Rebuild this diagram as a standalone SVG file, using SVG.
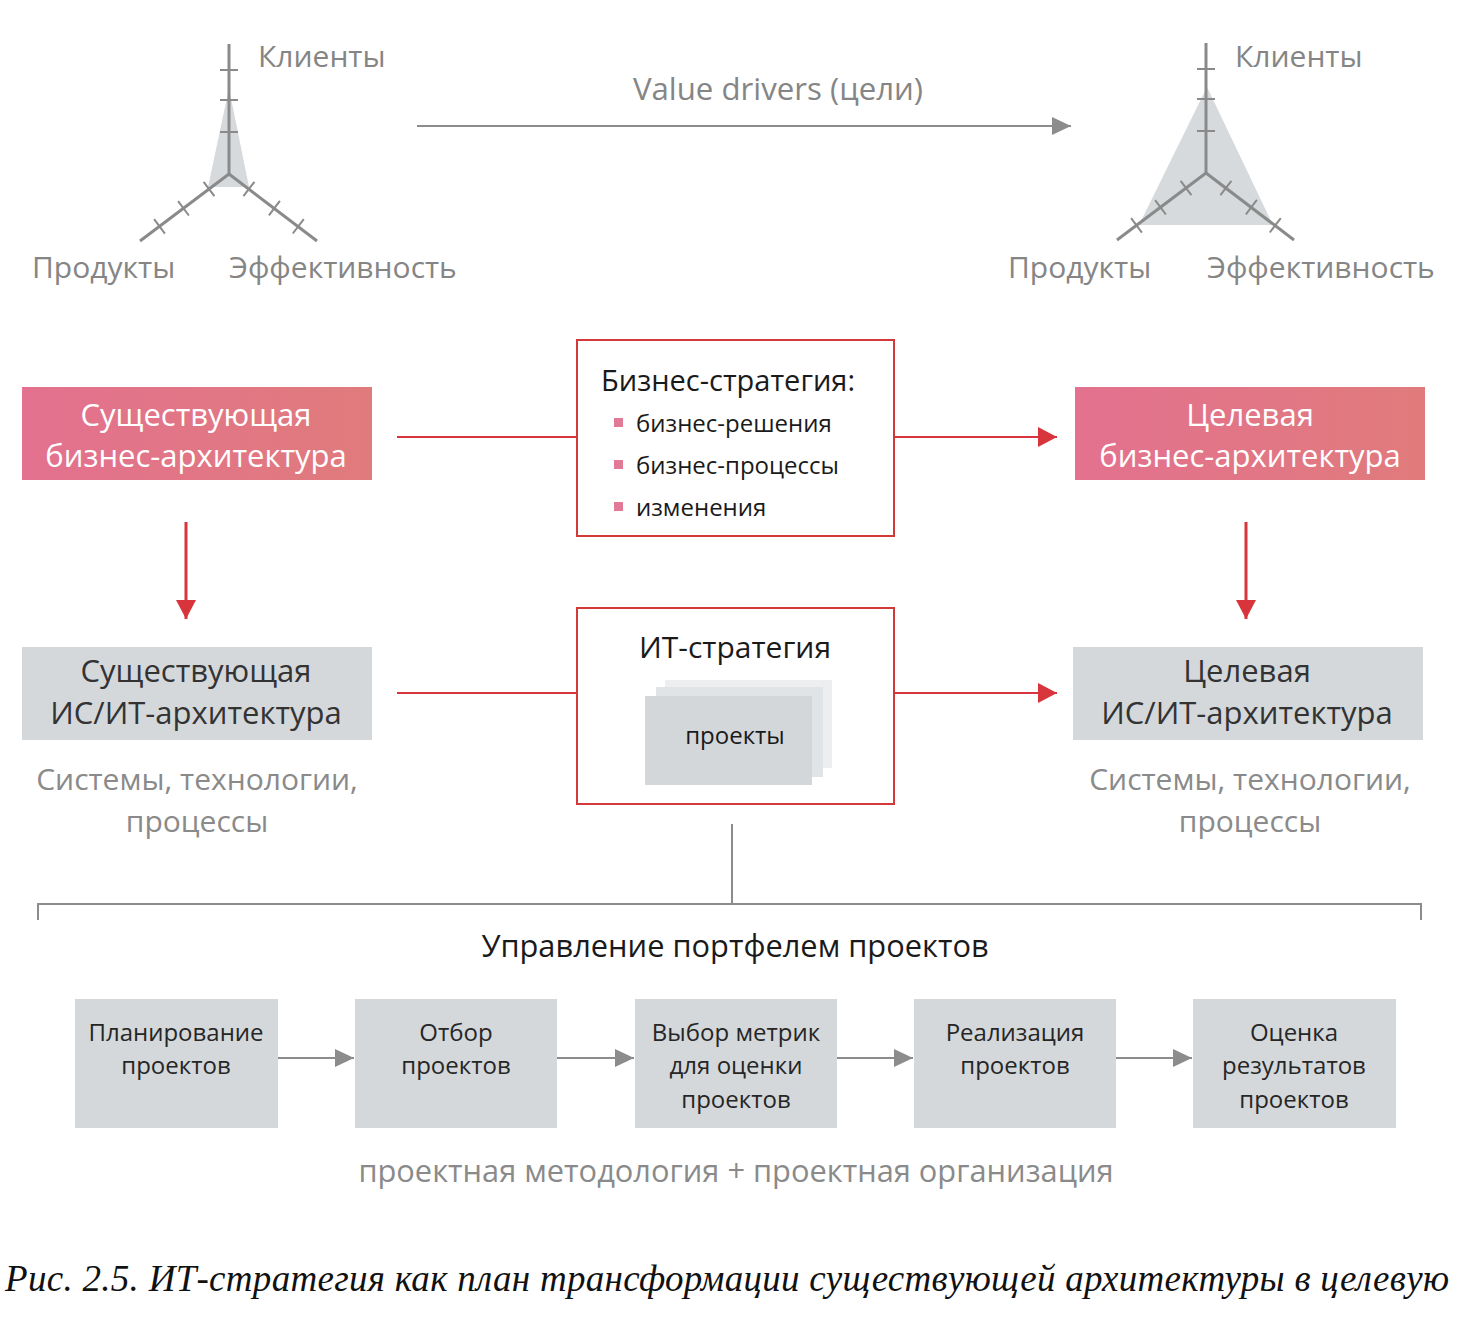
<svg xmlns="http://www.w3.org/2000/svg" xmlns:xlink="http://www.w3.org/1999/xlink" width="1458" height="1325" viewBox="0 0 1458 1325">
<style>
  text { font-family: "Open Sans", "Noto Sans", sans-serif; }
  text.cap { font-family: "Liberation Serif", "DejaVu Serif", serif; font-style: italic; font-size: 37px; fill: #111111; }
  .lbl { font-size: 30px; fill: #858585; }
  .wt { font-size: 31px; fill: #ffffff; text-anchor: middle; }
  .dk { font-size: 31px; fill: #333333; text-anchor: middle; }
  .sub { font-size: 30px; fill: #8a8a8a; text-anchor: middle; }
  .blk { fill: #1a1a1a; }
  .item { font-size: 24px; fill: #1a1a1a; }
  .bx { font-size: 24px; fill: #262626; text-anchor: middle; }
  .axis { stroke: #8a8a8a; stroke-width: 3; fill: none; }
  .tick { stroke: #8a8a8a; stroke-width: 2; fill: none; }
  .gbox { fill: #d4d8db; }
  .redline { stroke: #d8343c; stroke-width: 2; fill: none; }
  .redv { stroke: #d8343c; stroke-width: 3; fill: none; }
  .grayline { stroke: #8c8c8c; stroke-width: 2; fill: none; }
  .frame { fill: #ffffff; stroke: #d23a3a; stroke-width: 2; }
  .bullet { fill: #e07a96; }
</style>
<defs>
  <linearGradient id="pink" x1="0" y1="0" x2="1" y2="0">
    <stop offset="0" stop-color="#e3718f"/>
    <stop offset="1" stop-color="#e07b7c"/>
  </linearGradient>
  <marker id="redHead" markerUnits="userSpaceOnUse" markerWidth="20" markerHeight="22" refX="19" refY="11" orient="auto">
    <path d="M0,1 L19,11 L0,21 z" fill="#d8343c"/>
  </marker>
  <marker id="grayHead" markerUnits="userSpaceOnUse" markerWidth="20" markerHeight="20" refX="19" refY="9" orient="auto">
    <path d="M0,0 L19,9 L0,18 z" fill="#8c8c8c"/>
  </marker>
  <g id="axes">
    <line class="axis" x1="0" y1="-130" x2="0" y2="0"/>
    <line class="axis" x1="0" y1="0" x2="-89" y2="67"/>
    <line class="axis" x1="0" y1="0" x2="88" y2="67"/>
    <line class="tick" x1="-9" y1="-42" x2="9" y2="-42"/>
    <line class="tick" x1="-9" y1="-74" x2="9" y2="-74"/>
    <line class="tick" x1="-9" y1="-104" x2="9" y2="-104"/>
    <line class="tick" x1="-25.4" y1="7.8" x2="-14.6" y2="22.2"/>
    <line class="tick" x1="-50.9" y1="27.1" x2="-40.1" y2="41.5"/>
    <line class="tick" x1="-74.9" y1="45.2" x2="-64.1" y2="59.6"/>
    <line class="tick" x1="25.4" y1="7.8" x2="14.4" y2="22.2"/>
    <line class="tick" x1="50.9" y1="26.9" x2="39.9" y2="41.3"/>
    <line class="tick" x1="74.8" y1="45.1" x2="63.8" y2="59.5"/>
  </g>
</defs>
<rect x="0" y="0" width="1458" height="1325" fill="#ffffff"/>

<g id="radar-current">
  <polygon points="229,88 208,187 249,187" fill="#d6dadc"/>
  <use xlink:href="#axes" href="#axes" transform="translate(229,174)"/>
  <text class="lbl" x="258" y="67">Клиенты</text>
  <text class="lbl" x="32" y="278">Продукты</text>
  <text class="lbl" x="229" y="278">Эффективность</text>
</g>

<g id="radar-target">
  <polygon points="1207,87 1139,225 1273,225" fill="#d6dadc"/>
  <use xlink:href="#axes" href="#axes" transform="translate(1206,173)"/>
  <text class="lbl" x="1235" y="67">Клиенты</text>
  <text class="lbl" x="1008" y="278">Продукты</text>
  <text class="lbl" x="1207" y="278">Эффективность</text>
</g>

<g id="connectors">
  <line class="grayline" x1="417" y1="126" x2="1071" y2="126" marker-end="url(#grayHead)"/>
  <line class="redline" x1="397" y1="437" x2="577" y2="437"/>
  <line class="redline" x1="894" y1="437" x2="1057" y2="437" marker-end="url(#redHead)"/>
  <line class="redline" x1="397" y1="693" x2="577" y2="693"/>
  <line class="redline" x1="894" y1="693" x2="1057" y2="693" marker-end="url(#redHead)"/>
  <line class="redv" x1="186" y1="522" x2="186" y2="619" marker-end="url(#redHead)"/>
  <line class="redv" x1="1246" y1="522" x2="1246" y2="619" marker-end="url(#redHead)"/>
  <line class="grayline" x1="732" y1="824" x2="732" y2="904"/>
  <path class="grayline" d="M38,920 V904 H1421 V920"/>
  <line class="grayline" x1="278" y1="1058" x2="354" y2="1058" marker-end="url(#grayHead)"/>
  <line class="grayline" x1="557" y1="1058" x2="634" y2="1058" marker-end="url(#grayHead)"/>
  <line class="grayline" x1="837" y1="1058" x2="913" y2="1058" marker-end="url(#grayHead)"/>
  <line class="grayline" x1="1116" y1="1058" x2="1192" y2="1058" marker-end="url(#grayHead)"/>
</g>

<text id="value-drivers" class="lbl" x="778" y="100" text-anchor="middle" style="font-size:31.2px">Value drivers (цели)</text>

<g id="biz-current">
  <rect x="22" y="387" width="350" height="93" fill="url(#pink)"/>
  <text class="wt" x="196" y="426">Существующая</text>
  <text class="wt" x="196" y="467">бизнес-архитектура</text>
</g>

<g id="biz-target">
  <rect x="1075" y="387" width="350" height="93" fill="url(#pink)"/>
  <text class="wt" x="1250" y="426">Целевая</text>
  <text class="wt" x="1250" y="467">бизнес-архитектура</text>
</g>

<g id="biz-strategy">
  <rect class="frame" x="577" y="340" width="317" height="196"/>
  <text class="blk" x="601" y="391" font-size="29">Бизнес-стратегия:</text>
  <rect class="bullet" x="614" y="418" width="9" height="9"/>
  <text class="item" x="636" y="432">бизнес-решения</text>
  <rect class="bullet" x="614" y="460" width="9" height="9"/>
  <text class="item" x="636" y="474">бизнес-процессы</text>
  <rect class="bullet" x="614" y="502" width="9" height="9"/>
  <text class="item" x="636" y="516">изменения</text>
</g>

<g id="it-current">
  <rect class="gbox" x="22" y="647" width="350" height="93"/>
  <text class="dk" x="196" y="682">Существующая</text>
  <text class="dk" x="196" y="724">ИС/ИТ-архитектура</text>
  <text class="sub" x="197" y="790">Системы, технологии,</text>
  <text class="sub" x="197" y="832">процессы</text>
</g>

<g id="it-target">
  <rect class="gbox" x="1073" y="647" width="350" height="93"/>
  <text class="dk" x="1247" y="682">Целевая</text>
  <text class="dk" x="1247" y="724">ИС/ИТ-архитектура</text>
  <text class="sub" x="1250" y="790">Системы, технологии,</text>
  <text class="sub" x="1250" y="832">процессы</text>
</g>

<g id="it-strategy">
  <rect class="frame" x="577" y="608" width="317" height="196"/>
  <text class="blk" x="735" y="658" font-size="30" text-anchor="middle">ИТ-стратегия</text>
  <rect x="665" y="680" width="167" height="88" fill="#eceeef"/>
  <rect x="656" y="687" width="167" height="90" fill="#e1e4e6"/>
  <rect x="645" y="696" width="167" height="89" fill="#d3d7da"/>
  <text class="blk" x="735" y="744" font-size="24" text-anchor="middle">проекты</text>
</g>

<text id="portfolio" class="blk" x="735" y="957" font-size="30.8" text-anchor="middle">Управление портфелем проектов</text>

<g id="step1">
  <rect class="gbox" x="75" y="999" width="203" height="129"/>
  <text class="bx" x="176" y="1041">Планирование</text>
  <text class="bx" x="176" y="1074">проектов</text>
</g>
<g id="step2">
  <rect class="gbox" x="355" y="999" width="202" height="129"/>
  <text class="bx" x="456" y="1041">Отбор</text>
  <text class="bx" x="456" y="1074">проектов</text>
</g>
<g id="step3">
  <rect class="gbox" x="635" y="999" width="202" height="129"/>
  <text class="bx" x="736" y="1041">Выбор метрик</text>
  <text class="bx" x="736" y="1074">для оценки</text>
  <text class="bx" x="736" y="1108">проектов</text>
</g>
<g id="step4">
  <rect class="gbox" x="914" y="999" width="202" height="129"/>
  <text class="bx" x="1015" y="1041">Реализация</text>
  <text class="bx" x="1015" y="1074">проектов</text>
</g>
<g id="step5">
  <rect class="gbox" x="1193" y="999" width="203" height="129"/>
  <text class="bx" x="1294" y="1041">Оценка</text>
  <text class="bx" x="1294" y="1074">результатов</text>
  <text class="bx" x="1294" y="1108">проектов</text>
</g>

<text id="method" class="sub" x="736" y="1182" style="font-size:30.8px">проектная методология + проектная организация</text>

<text id="caption" class="cap" x="5" y="1291" textLength="1444">Рис. 2.5. ИТ-стратегия как план трансформации существующей архитектуры в целевую</text>
</svg>
